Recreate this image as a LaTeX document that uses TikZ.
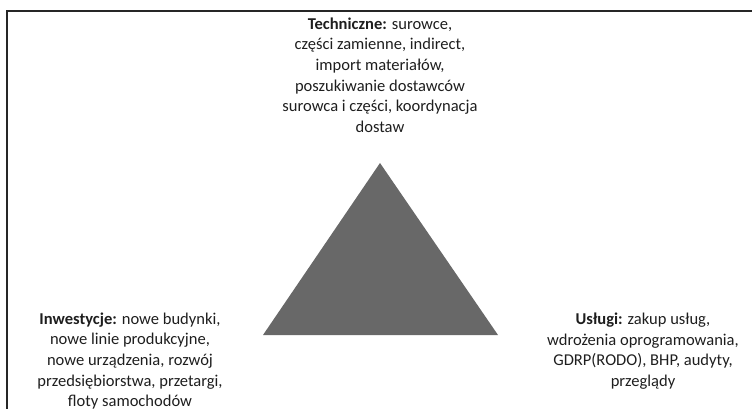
\documentclass[tikz,border=0pt]{standalone}
\usepackage{fontspec}
\setmainfont{Carlito}
\definecolor{trigray}{HTML}{686868}
\definecolor{txt}{HTML}{1E1E1E}
\begin{document}
\begin{tikzpicture}[x=0.75pt,y=-0.75pt,
  lbl/.style={align=center,text=txt,font=\fontsize{12.4pt}{15.4pt}\selectfont,inner sep=0pt},
  frame/.style={line width=1.6pt,draw=black!85}]
\useasboundingbox (0,0) rectangle (752,409);
\draw[frame] (752,11) -- (7,11) -- (7,409);
\coordinate (apex) at (380,163);
\coordinate (bl) at (263,335);
\coordinate (br) at (498,335);
\fill[trigray] (apex) -- (br) -- (bl) -- cycle;
\node[lbl] (tech) at (380,75) {\textbf{Techniczne:} surowce,\\części zamienne, indirect,\\import materiałów,\\poszukiwanie dostawców\\surowca i części, koordynacja\\dostaw};
\node[lbl] (inw) at (130,361) {\textbf{Inwestycje:} nowe budynki,\\nowe linie produkcyjne,\\nowe urządzenia, rozwój\\przedsiębiorstwa, przetargi,\\floty samochodów};
\node[lbl] (usl) at (643,351) {\textbf{Usługi:} zakup usług,\\wdrożenia oprogramowania,\\GDRP(RODO), BHP, audyty,\\przeglądy};
\end{tikzpicture}
\end{document}
